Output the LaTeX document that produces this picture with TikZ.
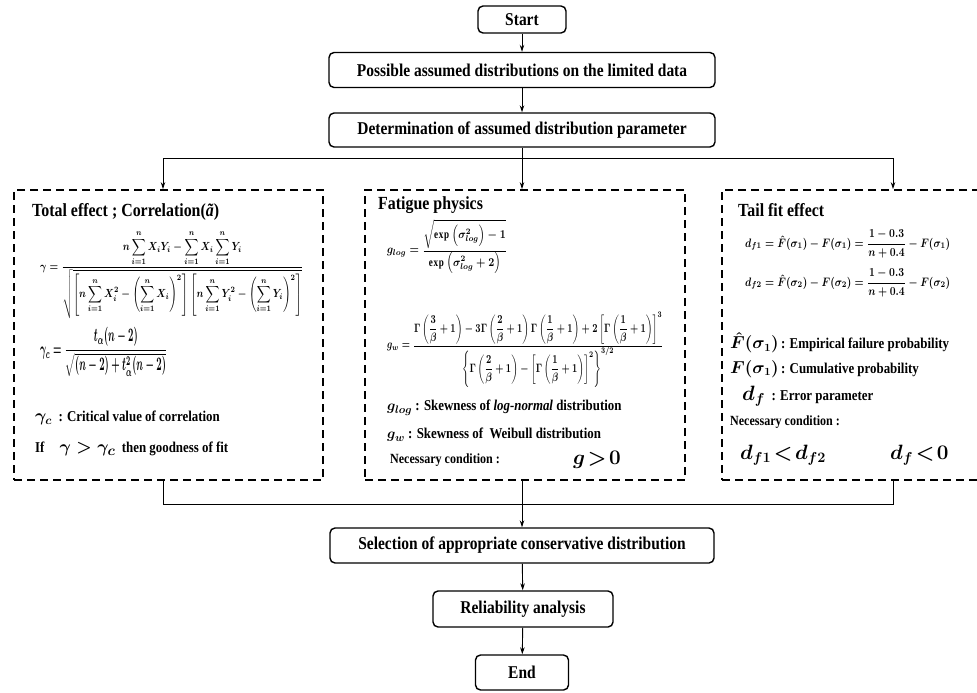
\documentclass[tikz,border=0pt]{standalone}
\usepackage{amsmath}
\usepackage{amssymb}
\usepackage{graphicx}
\usepackage{fontspec}
\setmainfont{Liberation Serif}[FakeStretch=0.86]
\usetikzlibrary{arrows.meta}
\begin{document}
\begin{tikzpicture}[x=1pt,y=-1pt,
  flow/.style={draw,line width=1.4pt,rounded corners=5pt,font=\bfseries\fontsize{18}{20}\selectfont,inner sep=0pt},
  panel/.style={draw,line width=1.8pt,dash pattern=on 8pt off 5pt,inner sep=0pt},
  conn/.style={line width=0.9pt},
  arr/.style={conn,-{Stealth[length=7pt,width=4.5pt]}},
  title/.style={anchor=west,font=\bfseries\fontsize{18.5}{20}\selectfont,inner sep=0pt},
  body/.style={anchor=west,font=\bfseries\fontsize{15}{17}\selectfont,inner sep=0pt},
  small/.style={anchor=west,font=\bfseries\fontsize{14}{16}\selectfont,inner sep=0pt},
  eq/.style={anchor=west,inner sep=0pt},
  bigeq/.style={anchor=west,inner sep=0pt,font=\boldmath\fontsize{20}{24}\selectfont},
]
\useasboundingbox (0,0) rectangle (977,693);

% main flow boxes
\node[flow,minimum width=88,minimum height=27] (start) at (522,19.5) {Start};
\node[flow,minimum width=386,minimum height=35] (poss) at (522,70) {Possible assumed distributions on the limited data};
\node[flow,minimum width=386,minimum height=34] (det) at (522,130) {Determination of assumed distribution parameter};

% dashed panels
\node[panel,minimum width=309,minimum height=290] (left) at (168.5,335) {};
\node[panel,minimum width=320,minimum height=290] (mid) at (525,335) {};
\node[panel,minimum width=270,minimum height=290] (right) at (857,335) {};

\node[flow,minimum width=384,minimum height=35] (sel) at (522,545.5) {Selection of appropriate conservative distribution};
\node[flow,minimum width=180,minimum height=36] (rel) at (523,609) {Reliability analysis};
\node[flow,minimum width=93,minimum height=35] (end) at (522,672.5) {End};

% connectors
\draw[arr] (start) -- (poss);
\draw[arr] (poss) -- (det);
\coordinate (hl) at (522,158);
\coordinate (tl) at (163,158);
\coordinate (tr) at (893,158);
\draw[conn] (det.south) -- (hl);
\draw[conn] (tl) -- (tr);
\draw[arr] (tl) -- (tl |- left.north);
\draw[arr] (hl) -- (hl |- mid.north);
\draw[arr] (tr) -- (tr |- right.north);

\coordinate (bl) at (163,504);
\coordinate (br) at (893,504);
\draw[conn] (bl |- left.south) -- (bl) -- (br) -- (br |- right.south);
\draw[arr] (sel.north |- mid.south) -- (sel.north);
\draw[arr] (sel) -- (rel);
\draw[arr] (rel) -- (end);

% left panel
\node[title] (t1) at (32,212) {Total effect ; Correlation(\textit{ã})};
\node[eq] (e1) at (40,275) {\resizebox*{263pt}{88pt}{\boldmath$\displaystyle \gamma=\frac{n\displaystyle\sum_{i=1}^{n}X_iY_i-\sum_{i=1}^{n}X_i\sum_{i=1}^{n}Y_i}{\sqrt{\left[n\displaystyle\sum_{i=1}^{n}X_i^2-\left(\sum_{i=1}^{n}X_i\right)^{2}\right]\left[n\displaystyle\sum_{i=1}^{n}Y_i^2-\left(\sum_{i=1}^{n}Y_i\right)^{2}\right]}}$}};
\node[eq] (e2) at (40,352) {\resizebox*{127pt}{50pt}{\boldmath$\displaystyle \gamma_c=\frac{t_\alpha(n-2)}{\sqrt{(n-2)+t_\alpha^2(n-2)}}$}};
\node[body] (l1) at (35,418) {{\boldmath\fontsize{18}{20}\selectfont$\gamma_c$}\ \ : Critical value of correlation};
\node[body] (l2) at (35,449) {If\quad{\boldmath\fontsize{19}{21}\selectfont$\gamma>\gamma_c$}\ \ then goodness of fit};

% middle panel
\node[title] (t2) at (378,205) {Fatigue physics};
\node[eq] (e3) at (387,247) {\resizebox*{120pt}{54pt}{\boldmath$\displaystyle g_{log}=\frac{\sqrt{\exp\left(\sigma^2_{log}\right)-1}}{\exp\left(\sigma^2_{log}+2\right)}$}};
\node[eq] (e4) at (387,350) {\resizebox*{276pt}{75pt}{\boldmath$\displaystyle g_w=\frac{\Gamma\left(\dfrac{3}{\beta}+1\right)-3\Gamma\left(\dfrac{2}{\beta}+1\right)\Gamma\left(\dfrac{1}{\beta}+1\right)+2\left[\Gamma\left(\dfrac{1}{\beta}+1\right)\right]^{3}}{\left\{\Gamma\left(\dfrac{2}{\beta}+1\right)-\left[\Gamma\left(\dfrac{1}{\beta}+1\right)\right]^{2}\right\}^{3/2}}$}};
\node[body] (m1) at (387,408) {{\boldmath$g_{log}$} : Skewness of \textit{log-normal} distribution};
\node[body] (m2) at (387,435) {{\boldmath$g_w$} : Skewness of \ Weibull distribution};
\node[small] (m3) at (390,460) {Necessary condition :};
\node[bigeq] (m4) at (573,460) {$g\mkern2mu{>}\mkern2mu0$};

% right panel
\node[title] (t3) at (738,210) {Tail fit effect};
\node[eq] (e5) at (745,244) {\resizebox*{205pt}{28pt}{\boldmath$\displaystyle d_{f1}=\hat F(\sigma_1)-F(\sigma_1)=\frac{1-0.3}{n+0.4}-F(\sigma_1)$}};
\node[eq] (e6) at (745,283) {\resizebox*{205pt}{28pt}{\boldmath$\displaystyle d_{f2}=\hat F(\sigma_2)-F(\sigma_2)=\frac{1-0.3}{n+0.4}-F(\sigma_2)$}};
\node[body] (r1) at (730,343) {{\boldmath\fontsize{16}{18}\selectfont$\hat F(\sigma_1)$}\,: Empirical failure probability};
\node[body] (r2) at (730,369) {{\boldmath\fontsize{16}{18}\selectfont$F(\sigma_1)$}\,: Cumulative probability};
\node[body] (r3) at (742,396) {{\boldmath\fontsize{21}{23}\selectfont$d_f$}\ \ : Error parameter};
\node[small] (r4) at (730,422) {Necessary condition :};
\node[bigeq] (r5) at (740,455) {$d_{f1}\mkern2mu{<}\mkern2mu d_{f2}$};
\node[bigeq] (r6) at (890,455) {$d_f\mkern2mu{<}\mkern2mu0$};
\end{tikzpicture}
\end{document}
